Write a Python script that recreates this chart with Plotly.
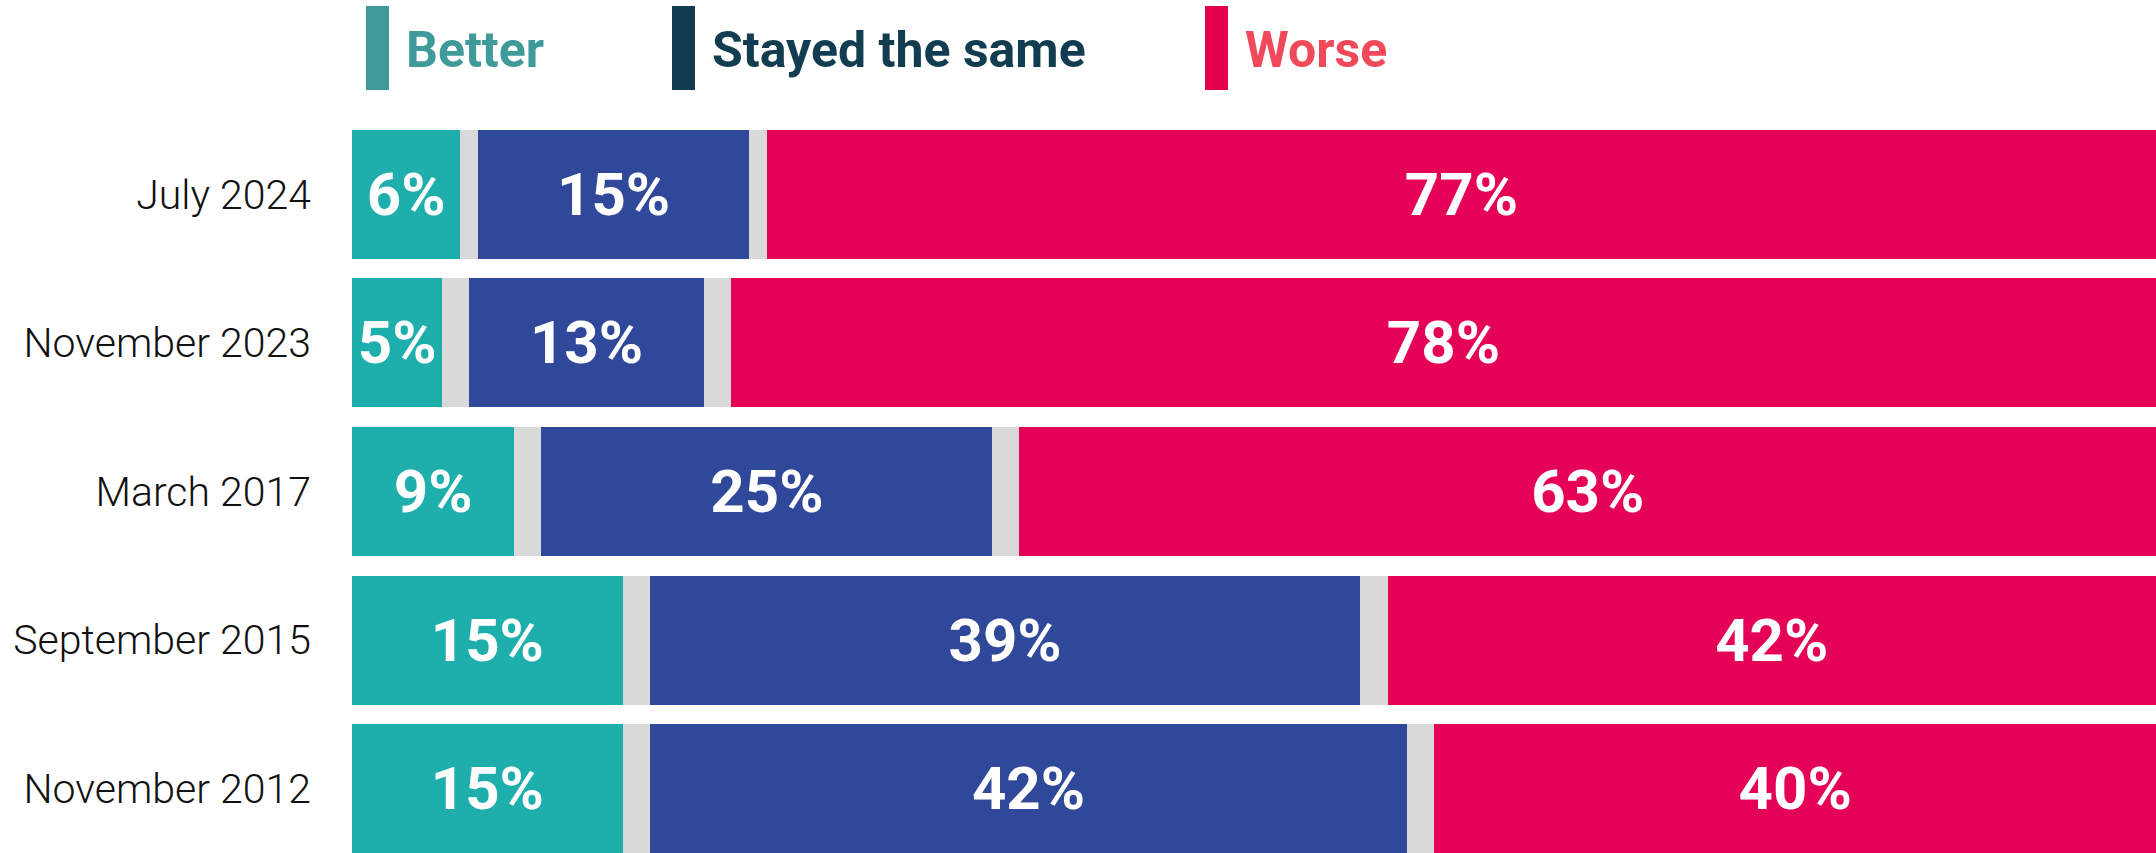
import plotly.graph_objects as go

# ---- data ----
periods = ["July 2024", "November 2023", "March 2017", "September 2015", "November 2012"]
better = [6, 5, 9, 15, 15]
same = [15, 13, 25, 39.4, 42]
worse = [77, 78, 63, 42, 40]
# grey "don't know" shares, shown as two equal separators between segments
dont_know_half = [1, 1.5, 1.5, 1.5, 1.5]

legend_names = ["Better", "Stayed the same", "Worse"]

# ---- styling ----
W, H = 2156, 853
ML, MT = 352, 120
PW = W - ML
PH = H - MT

C_BETTER = "#1eafac"
C_SAME = "#30489a"
C_WORSE = "#e40356"
C_GREY = "#d9d9d9"

worse_drawn = [100 - b - s - 2 * g for b, s, g in zip(better, same, dont_know_half)]

label_font = dict(family="Roboto", size=60, color="white", weight=700)

fig = go.Figure()


def seg(x, color, labels=None, name=""):
    fig.add_trace(go.Bar(
        y=periods, x=x, orientation="h", name=name,
        marker=dict(color=color, line=dict(width=0)),
        text=[f"{round(v)}%" for v in labels] if labels is not None else None,
        texttemplate="%{text}" if labels is not None else None,
        textposition="inside" if labels is not None else "none",
        insidetextanchor="middle", textangle=0,
        textfont=label_font, hoverinfo="skip", showlegend=False,
    ))


seg(better, C_BETTER, better, "Better")
seg(dont_know_half, C_GREY, None, "gap1")
seg(same, C_SAME, same, "Stayed the same")
seg(dont_know_half, C_GREY, None, "gap2")
seg(worse_drawn, C_WORSE, worse, "Worse")

pitch = 148.6
fig.update_layout(
    width=W, height=H,
    margin=dict(l=ML, r=0, t=MT, b=0, pad=0),
    barmode="stack", bargap=0.132,
    plot_bgcolor="white", paper_bgcolor="white",
    uniformtext=dict(minsize=60, mode="show"),
    xaxis=dict(range=[0, 100], visible=False, fixedrange=True),
    yaxis=dict(
        type="category", categoryorder="array", categoryarray=periods,
        range=[-0.5 + PH / pitch, -0.5], autorange=False, fixedrange=True,
        showgrid=False, zeroline=False, showline=False, ticks="",
        ticklabelstandoff=40,
        tickfont=dict(family="Roboto", size=41, color="#111111", weight=300),
    ),
)

# ---- custom legend (tall colour blocks + bold labels) ----
def px_x(p):
    return (p - ML) / PW


def px_y(p):
    return (H - p) / PH


legend_items = [
    (legend_names[0], "#409999", "#3f9a9a", 366),
    (legend_names[1], "#123c4f", "#123c4f", 672),
    (legend_names[2], "#e4004f", "#f04a5a", 1205),
]
for name, rect_c, text_c, x0 in legend_items:
    fig.add_shape(type="rect", xref="paper", yref="paper",
                  x0=px_x(x0), x1=px_x(x0 + 23), y0=px_y(90), y1=px_y(6),
                  fillcolor=rect_c, line=dict(width=0), layer="above")
    fig.add_annotation(text=name, xref="paper", yref="paper",
                       x=px_x(x0 + 38), y=px_y(50), xanchor="left", yanchor="middle",
                       showarrow=False,
                       font=dict(family="Roboto", size=50, color=text_c, weight=700))

fig.write_html(
    "out.html",
    config={"displayModeBar": False},
    post_script="document.body.style.margin='0';document.body.style.overflow='hidden';",
)
